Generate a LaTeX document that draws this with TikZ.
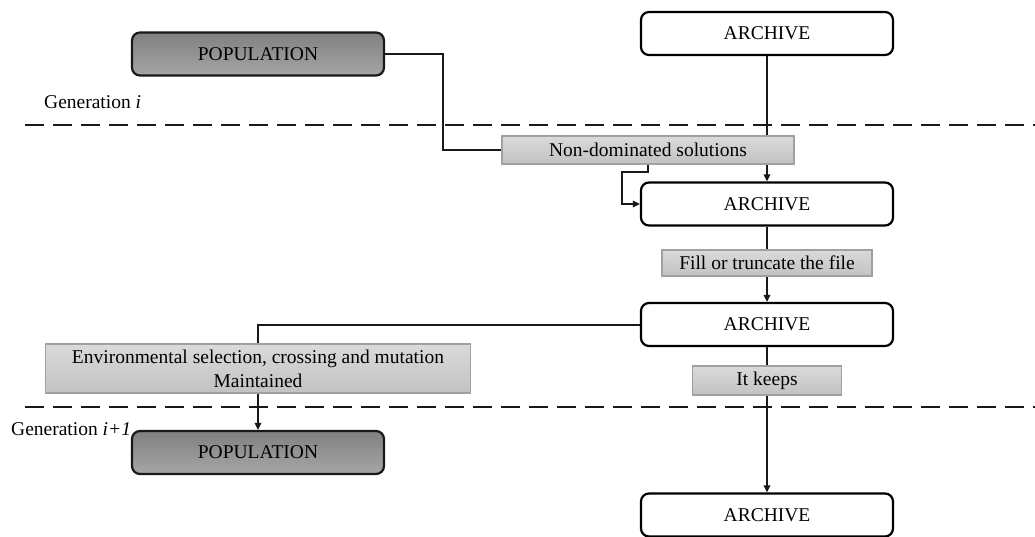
\documentclass[tikz,border=0pt]{standalone}
\usepackage{fontspec}
\setmainfont{Liberation Serif}
\usetikzlibrary{arrows.meta,backgrounds}
\definecolor{popTop}{RGB}{128,128,128}
\definecolor{popBot}{RGB}{166,166,166}
\definecolor{lblTop}{RGB}{218,218,218}
\definecolor{lblBot}{RGB}{194,194,194}
\definecolor{lblLine}{RGB}{160,160,160}
\definecolor{connCol}{RGB}{25,25,25}
\begin{document}
\begin{tikzpicture}[x=1pt,y=-1pt,
  every node/.style={font=\fontsize{19.5}{24}\selectfont, inner sep=0pt},
  archive/.style={draw=black, line width=2.2pt, rounded corners=8pt, fill=white,
    minimum width=252pt, minimum height=43pt},
  pop/.style={draw=black!90, line width=2.2pt, rounded corners=8pt,
    top color=popTop, bottom color=popBot, minimum width=252pt, minimum height=43pt},
  lbl/.style={draw=lblLine, line width=1.6pt, top color=lblTop, bottom color=lblBot},
  conn/.style={line width=2pt, draw=connCol},
  arr/.style={conn, -{Triangle[length=7pt,width=6.5pt]}},
  sep/.style={line width=2.8pt, draw=black!90, dash pattern=on 19pt off 9pt}
]
\useasboundingbox (0,0) rectangle (1035,537);

\node[archive] (a1) at (767,33.5) {ARCHIVE};
\node[pop] (p1) at (258,54) {POPULATION};
\node[lbl, minimum width=292pt, minimum height=28pt] (nd) at (648,150) {Non-dominated solutions};
\node[archive] (a2) at (767,204) {ARCHIVE};
\node[lbl, minimum width=210pt, minimum height=26pt] (fill) at (767,263) {Fill or truncate the file};
\node[archive] (a3) at (767,324.5) {ARCHIVE};
\node[lbl, minimum width=425pt, minimum height=49pt, align=center] (env) at (258,368.5)
  {Environmental selection, crossing and mutation\\Maintained};
\node[lbl, minimum width=149pt, minimum height=29pt] (keep) at (767,380.5) {It keeps};
\node[pop] (p2) at (258,452.5) {POPULATION};
\node[archive] (a4) at (767,515) {ARCHIVE};

\node[anchor=base west] (g1) at (44,109) {Generation \textit{i}};
\node[anchor=base west] (g2) at (11,435) {Generation \textit{i+1}};

\coordinate (k1) at (443,0);
\coordinate (k2) at (622,172);
\coordinate (d1l) at (25,125);
\coordinate (d1r) at (1035,125);
\coordinate (d2l) at (25,407);
\coordinate (d2r) at (1035,407);

\begin{scope}[on background layer]
  \draw[sep] (d1l) -- (d1r);
  \draw[sep] (d2l) -- (d2r);
  \draw[conn] (p1.east) -- (p1.east -| k1) |- (nd.west);
  \draw[arr] (a1.south) -- (a2.north);
  \draw[arr] (nd.south) |- (k2) |- (a2.west);
  \draw[arr] (a2.south) -- (a3.north);
  \draw[arr] (a3.west) -| (p2.north);
  \draw[arr] (a3.south) -- (a4.north);
\end{scope}
\end{tikzpicture}
\end{document}
